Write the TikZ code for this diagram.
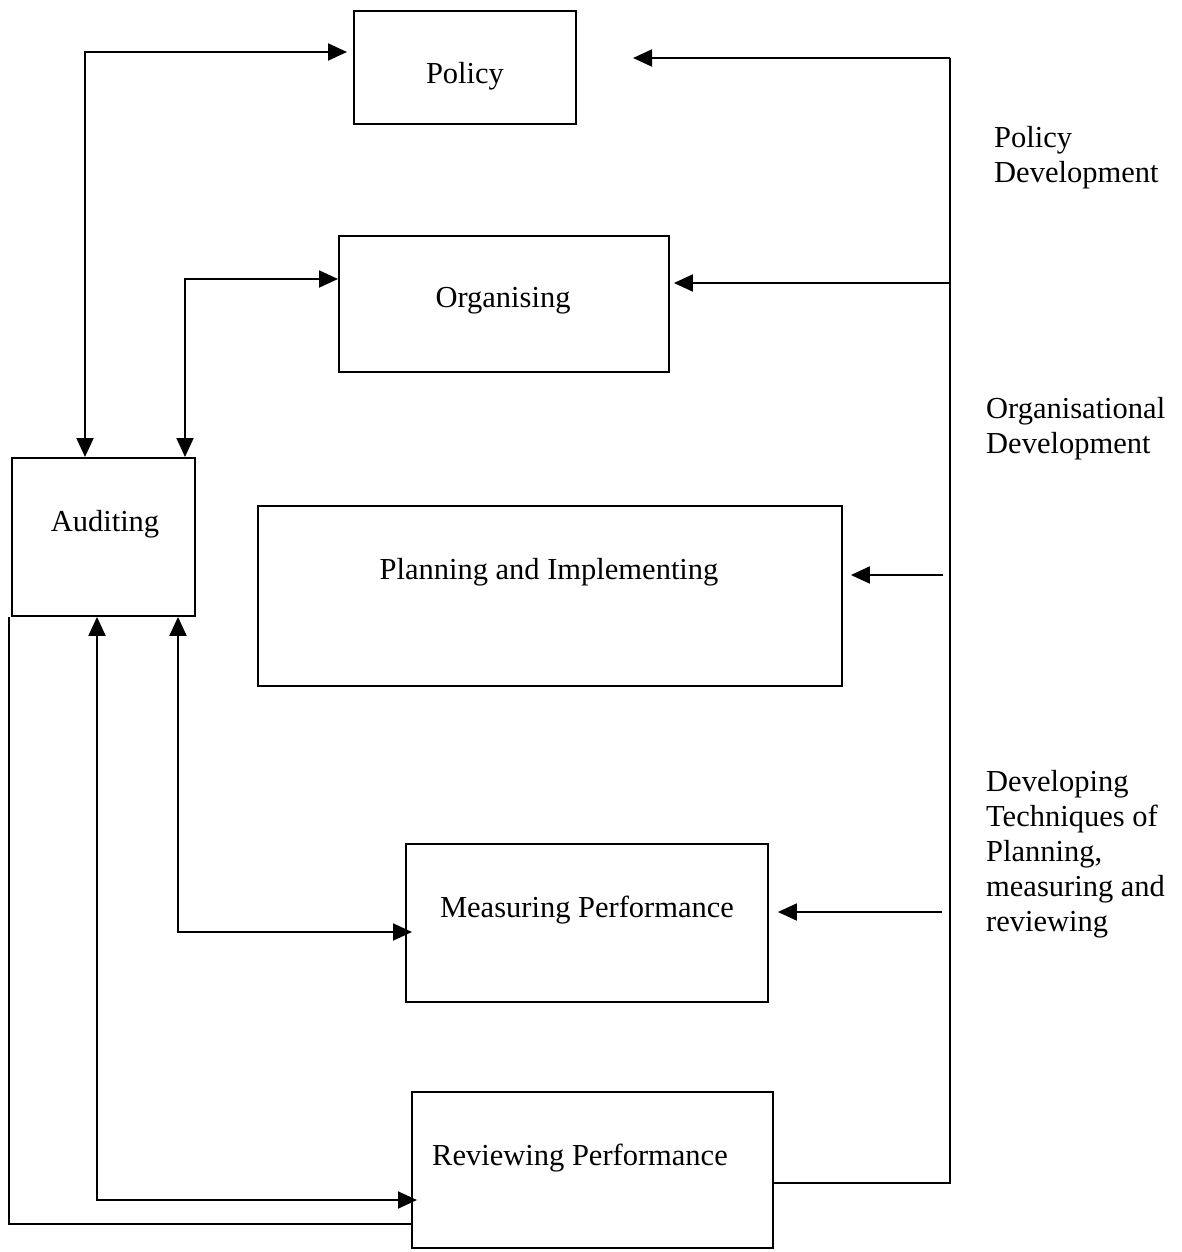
\documentclass[tikz,border=0pt]{standalone}
\usepackage{fontspec}
\setmainfont{Liberation Serif}
\usetikzlibrary{arrows.meta}

\begin{document}
\begin{tikzpicture}[x=1pt,y=-1pt,
  box/.style={draw,line width=1.9pt,inner sep=0pt,anchor=north west},
  txt/.style={font=\fontsize{30.5}{35}\selectfont,inner sep=0pt},
  side/.style={txt,align=left,anchor=west},
  conn/.style={line width=1.9pt},
  tipend/.style={-{Triangle[length=19pt,width=17pt]}},
  tipboth/.style={{Triangle[length=19pt,width=17pt]}-{Triangle[length=19pt,width=17pt]}}
]
\useasboundingbox (0,0) rectangle (1182,1252);

% boxes
\node[box,minimum width=222pt,minimum height=113pt] (policy) at (353,10) {};
\node[box,minimum width=330pt,minimum height=136pt] (org) at (338,235) {};
\node[box,minimum width=183pt,minimum height=158pt] (audit) at (11,457) {};
\node[box,minimum width=584pt,minimum height=180pt] (plan) at (257,505) {};
\node[box,minimum width=362pt,minimum height=158pt] (meas) at (405,843) {};
\node[box,minimum width=361pt,minimum height=156pt] (review) at (411,1091) {};

% box texts
\node[txt] (policyT) at (465,76) {Policy};
\node[txt] (orgT) at (503,301) {Organising};
\node[txt] (auditT) at (105,524) {Auditing};
\node[txt] (planT) at (549,572) {Planning and Implementing};
\node[txt] (measT) at (587,910) {Measuring Performance};
\node[txt] (reviewT) at (580,1158) {Reviewing Performance};

% side labels
\node[side] (lab1) at (994,157.5) {Policy\\Development};
\node[side] (lab2) at (986,428.5) {Organisational\\Development};
\node[side] (lab3) at (986,854) {Developing\\Techniques of\\Planning,\\measuring and\\reviewing};

% auditing loop on the left
\coordinate (pA) at (85,52);
\coordinate (oA) at (185,279);
\coordinate (mA) at (178,932);
\coordinate (rA) at (97,1200);
\coordinate (bA) at (9,1224);
\draw[conn,tipboth] (audit.north -| pA) -- (pA) -- ([xshift=-6pt]policy.west |- pA);
\draw[conn,tipboth] (audit.north -| oA) -- (oA) -- (org.west |- oA);
\draw[conn,tipboth] (audit.south -| mA) -- (mA) -- ([xshift=7pt]meas.west |- mA);
\draw[conn,tipboth] (audit.south -| rA) -- (rA) -- ([xshift=6pt]review.west |- rA);
\draw[conn] (audit.south west -| bA) -- (bA) -- (review.west |- bA);

% development feedback on the right
\coordinate (rTop) at (950,58);
\coordinate (rBot) at (950,1183);
\coordinate (policyTip) at (633,58);
\coordinate (oR) at (950,283);
\coordinate (plR) at (943,575);
\coordinate (mR) at (942,912);
\draw[conn] (review.east |- rBot) -- (rBot) -- (rTop);
\draw[conn,tipend] (rTop) -- (policyTip);
\draw[conn,tipend] (oR) -- ([xshift=4pt]org.east |- oR);
\draw[conn,tipend] (plR) -- ([xshift=8pt]plan.east |- plR);
\draw[conn,tipend] (mR) -- ([xshift=9pt]meas.east |- mR);
\end{tikzpicture}
\end{document}
